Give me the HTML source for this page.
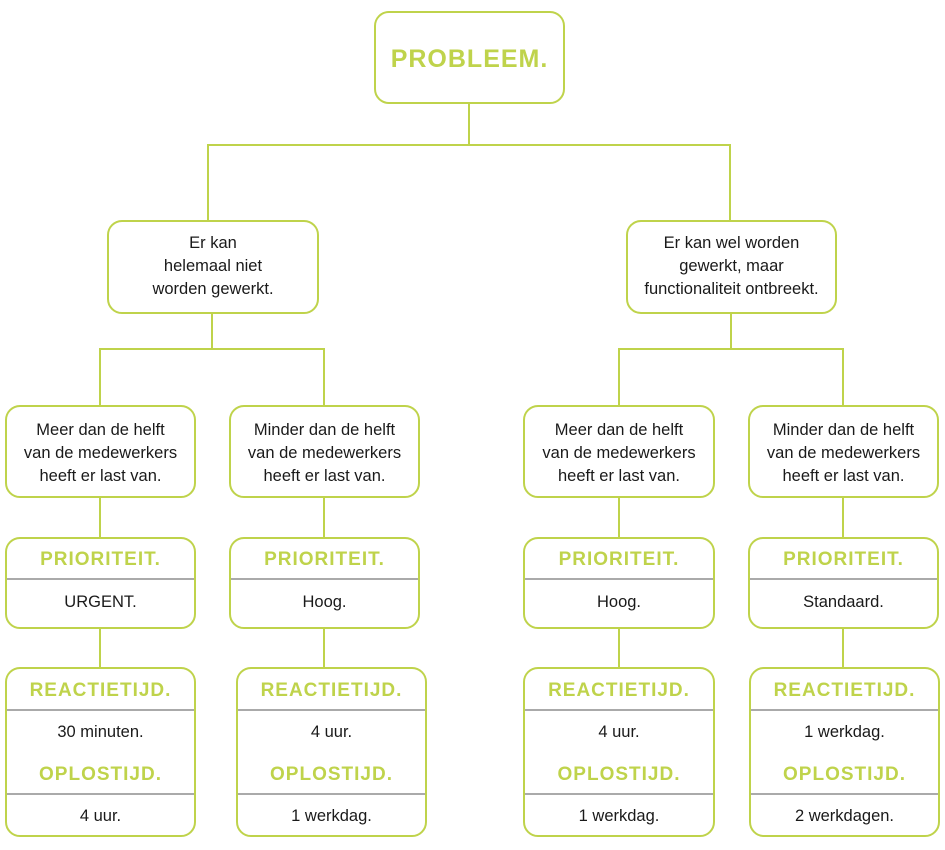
<!DOCTYPE html>
<html><head><meta charset="utf-8"><style>
body{margin:0;width:945px;height:850px;background:#fff;position:relative;font-family:"Liberation Sans",sans-serif;color:#1a1a1a;overflow:hidden}
.b{position:absolute;border:2.5px solid #bfd34b;border-radius:15px;box-sizing:border-box;background:#fff}
.l{position:absolute;background:#bfd34b}
.t{position:absolute;left:-10px;right:-10px;text-align:center;font-size:16.5px;line-height:23px;white-space:nowrap}
.h{position:absolute;left:0;right:0;text-align:center;font-size:19px;font-weight:bold;color:#bfd34b;letter-spacing:1px;line-height:22px}
.d{position:absolute;left:0;right:0;height:2px;background:#aaa}
</style></head><body>
<div class="l" style="left:468px;top:103px;width:2px;height:43px"></div>
<div class="l" style="left:207px;top:144px;width:524px;height:2px"></div>
<div class="l" style="left:207px;top:144px;width:2px;height:77px"></div>
<div class="l" style="left:729px;top:144px;width:2px;height:77px"></div>
<div class="l" style="left:211px;top:312px;width:2px;height:38px"></div>
<div class="l" style="left:99px;top:348px;width:226px;height:2px"></div>
<div class="l" style="left:730px;top:312px;width:2px;height:38px"></div>
<div class="l" style="left:618px;top:348px;width:226px;height:2px"></div>
<div class="l" style="left:99px;top:348px;width:2px;height:320px"></div>
<div class="l" style="left:323px;top:348px;width:2px;height:320px"></div>
<div class="l" style="left:618px;top:348px;width:2px;height:320px"></div>
<div class="l" style="left:842px;top:348px;width:2px;height:320px"></div>

<div class="b" style="left:374px;top:11px;width:191px;height:93px"><div class="h" style="top:35px;font-size:25px;letter-spacing:1px">PROBLEEM.</div></div>

<div class="b" style="left:107px;top:220px;width:212px;height:94px"><div class="t" style="top:10px">Er kan<br>helemaal niet<br>worden gewerkt.</div></div>
<div class="b" style="left:626px;top:220px;width:211px;height:94px"><div class="t" style="top:10px">Er kan wel worden<br>gewerkt, maar<br>functionaliteit ontbreekt.</div></div>

<div class="b" style="left:5px;top:405px;width:191px;height:93px"><div class="t" style="top:12px">Meer dan de helft<br>van de medewerkers<br>heeft er last van.</div></div>
<div class="b" style="left:229px;top:405px;width:191px;height:93px"><div class="t" style="top:12px">Minder dan de helft<br>van de medewerkers<br>heeft er last van.</div></div>
<div class="b" style="left:523px;top:405px;width:192px;height:93px"><div class="t" style="top:12px">Meer dan de helft<br>van de medewerkers<br>heeft er last van.</div></div>
<div class="b" style="left:748px;top:405px;width:191px;height:93px"><div class="t" style="top:12px">Minder dan de helft<br>van de medewerkers<br>heeft er last van.</div></div>

<div class="b" style="left:5px;top:537px;width:191px;height:92px"><div class="h" style="top:10px">PRIORITEIT.</div><div class="d" style="top:39px"></div><div class="t" style="top:52px">URGENT.</div></div>
<div class="b" style="left:229px;top:537px;width:191px;height:92px"><div class="h" style="top:10px">PRIORITEIT.</div><div class="d" style="top:39px"></div><div class="t" style="top:52px">Hoog.</div></div>
<div class="b" style="left:523px;top:537px;width:192px;height:92px"><div class="h" style="top:10px">PRIORITEIT.</div><div class="d" style="top:39px"></div><div class="t" style="top:52px">Hoog.</div></div>
<div class="b" style="left:748px;top:537px;width:191px;height:92px"><div class="h" style="top:10px">PRIORITEIT.</div><div class="d" style="top:39px"></div><div class="t" style="top:52px">Standaard.</div></div>

<div class="b" style="left:5px;top:667px;width:191px;height:170px"><div class="h" style="top:11px">REACTIETIJD.</div><div class="d" style="top:40px"></div><div class="t" style="top:52px">30 minuten.</div><div class="h" style="top:95px">OPLOSTIJD.</div><div class="d" style="top:124px"></div><div class="t" style="top:136px">4 uur.</div></div>
<div class="b" style="left:236px;top:667px;width:191px;height:170px"><div class="h" style="top:11px">REACTIETIJD.</div><div class="d" style="top:40px"></div><div class="t" style="top:52px">4 uur.</div><div class="h" style="top:95px">OPLOSTIJD.</div><div class="d" style="top:124px"></div><div class="t" style="top:136px">1 werkdag.</div></div>
<div class="b" style="left:523px;top:667px;width:192px;height:170px"><div class="h" style="top:11px">REACTIETIJD.</div><div class="d" style="top:40px"></div><div class="t" style="top:52px">4 uur.</div><div class="h" style="top:95px">OPLOSTIJD.</div><div class="d" style="top:124px"></div><div class="t" style="top:136px">1 werkdag.</div></div>
<div class="b" style="left:749px;top:667px;width:191px;height:170px"><div class="h" style="top:11px">REACTIETIJD.</div><div class="d" style="top:40px"></div><div class="t" style="top:52px">1 werkdag.</div><div class="h" style="top:95px">OPLOSTIJD.</div><div class="d" style="top:124px"></div><div class="t" style="top:136px">2 werkdagen.</div></div>
</body></html>
